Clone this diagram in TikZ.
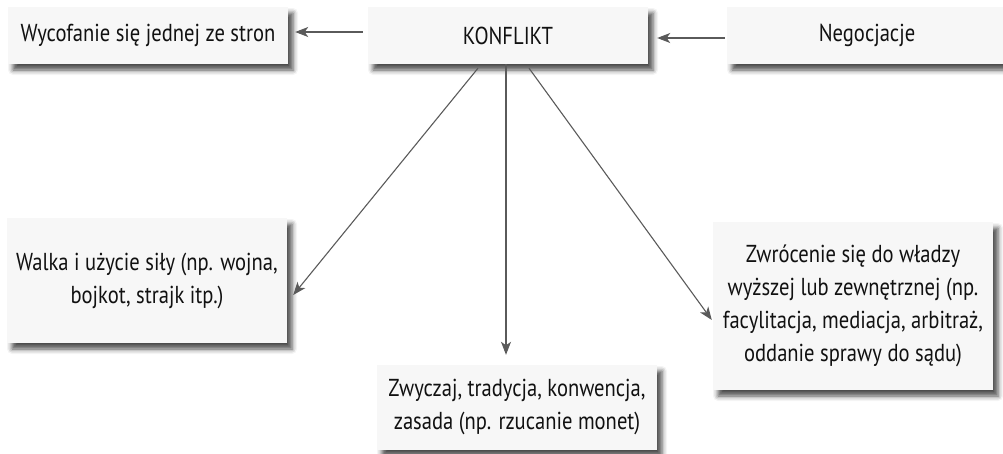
\documentclass[tikz,border=0pt]{standalone}
\usepackage{fontspec}
\setmainfont{PT Sans}[FakeStretch=0.84]
\usetikzlibrary{arrows.meta,calc,shadows.blur}
\definecolor{boxfill}{HTML}{F7F7F7}
\definecolor{arrowgray}{HTML}{5A5A5A}
\definecolor{inkblack}{HTML}{111111}
\tikzset{
  card/.style={fill=boxfill, draw=none, text=inkblack, align=center,
    minimum width=280pt, inner sep=0pt,
    font=\fontsize{24.5}{33}\selectfont,
    blur shadow={shadow xshift=5pt, shadow yshift=-6pt,
      shadow blur radius=5pt, shadow opacity=70}},
  link/.style={draw=arrowgray, line width=1.1pt,
    -{Stealth[length=13pt,width=10pt,inset=3.5pt]}}
}
\begin{document}
\begin{tikzpicture}[x=1pt,y=-1pt]
  \useasboundingbox (0,0) rectangle (1003,453);
  % top row
  \node[card, minimum height=57pt] (wyc) at (148,35.5) {Wycofanie się jednej ze stron};
  \node[card, minimum height=57pt] (kon) at (508,35.5) {KONFLIKT};
  \node[card, minimum height=57pt] (neg) at (867,35.5) {Negocjacje};
  % lower boxes
  \node[card, minimum height=125pt] (wal) at (147,280.5)
    {Walka i użycie siły (np. wojna,\\ bojkot, strajk itp.)};
  \node[card, minimum height=85pt] (zwy) at (517,407.5)
    {Zwyczaj, tradycja, konwencja,\\ zasada (np. rzucanie monet)};
  \node[card, minimum height=168pt] (zwr) at (853,306)
    {Zwrócenie się do władzy\\ wyższej lub zewnętrznej (np.\\ facylitacja, mediacja, arbitraż,\\ oddanie sprawy do sądu)};
  % connectors
  \draw[link] ($(kon.west)+(-5,-3.5)$) -- ($(wyc.east)+(7,-3.5)$);
  \draw[link] ($(neg.west)+(-2,2.5)$) -- ($(kon.east)+(9,2.5)$);
  \draw[link] ($(kon.south)+(-30,4)$) -- ($(wal.east)+(6,14.5)$);
  \draw[link] ($(kon.south)+(-2,0)$) -- ($(zwy.north)+(-11,-10)$);
  \draw[link] ($(kon.south)+(21,4)$) -- ($(zwr.west)+(-1,14)$);
\end{tikzpicture}
\end{document}
